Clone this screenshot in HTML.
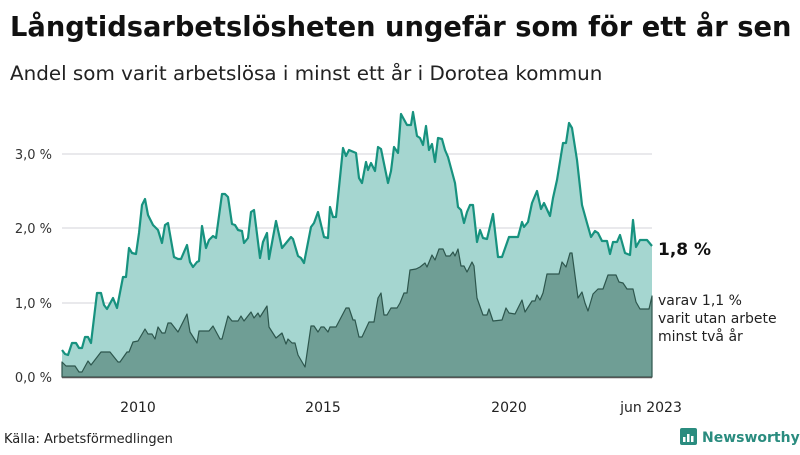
<!DOCTYPE html>
<html><head><meta charset="utf-8"><style>
body{margin:0;background:#fff;font-family:"Liberation Sans","DejaVu Sans",sans-serif;}
</style></head><body>
<svg width="800" height="450" xmlns="http://www.w3.org/2000/svg" font-family="'DejaVu Sans','Liberation Sans',sans-serif">
<rect width="800" height="450" fill="#fff"/>
<text x="10" y="36" font-size="27.3" font-weight="bold" fill="#111">Långtidsarbetslösheten ungefär som för ett år sen</text>
<text x="10" y="80" font-size="19.9" fill="#222">Andel som varit arbetslösa i minst ett år i Dorotea kommun</text>
<g stroke="#dcdce0" stroke-width="1.2">
<line x1="62" y1="154" x2="652" y2="154"/><line x1="62" y1="228" x2="652" y2="228"/><line x1="62" y1="303" x2="652" y2="303"/>
</g>
<g font-size="13" fill="#333" text-anchor="end">
<text x="52" y="159">3,0 %</text><text x="52" y="233">2,0 %</text><text x="52" y="308">1,0 %</text><text x="52" y="382">0,0 %</text>
</g>
<polygon fill="#a5d6d0" points="62,377 62,350 65,354 68,355 72,343 76,343 79,348 82,348 85,337 88,337 91,343 97,293 101,293 104,305 107,309 113,298 117,308 123,277 126,277 129,248 132,253 136,254 139,233 142,205 145,199 148,215 153,225 158,230 162,243 165,225 168,223 174,257 178,259 181,259 187,245 190,262 193,267 197,262 199,261 202,226 206,248 209,240 213,236 216,238 222,194 225,194 228,197 232,224 235,225 238,230 242,231 244,243 248,238 251,212 254,210 260,258 263,242 267,233 269,259 276,221 282,248 291,237 293,239 298,256 301,258 304,263 311,227 314,223 318,212 324,237 328,238 330,207 333,217 336,217 343,148 346,156 349,150 356,153 359,178 362,183 366,162 368,170 371,163 375,171 378,147 381,149 388,183 391,171 394,147 398,153 401,114 407,125 411,125 413,112 417,136 420,138 423,145 426,126 429,150 432,144 435,162 438,138 442,139 445,150 448,157 455,183 458,207 461,210 464,223 467,212 470,205 473,205 477,242 480,230 483,238 487,239 493,214 498,257 502,257 509,237 518,237 522,222 524,227 528,222 532,203 537,191 541,209 544,203 550,216 553,198 557,180 563,143 566,143 569,123 572,128 577,160 582,205 587,223 591,237 595,231 598,233 602,241 607,241 610,254 613,242 617,242 620,235 625,253 630,255 633,220 636,247 640,240 647,240 652,246 652,377"/>
<polyline fill="none" stroke="#17927f" stroke-width="2.2" stroke-linejoin="round" points="62,350 65,354 68,355 72,343 76,343 79,348 82,348 85,337 88,337 91,343 97,293 101,293 104,305 107,309 113,298 117,308 123,277 126,277 129,248 132,253 136,254 139,233 142,205 145,199 148,215 153,225 158,230 162,243 165,225 168,223 174,257 178,259 181,259 187,245 190,262 193,267 197,262 199,261 202,226 206,248 209,240 213,236 216,238 222,194 225,194 228,197 232,224 235,225 238,230 242,231 244,243 248,238 251,212 254,210 260,258 263,242 267,233 269,259 276,221 282,248 291,237 293,239 298,256 301,258 304,263 311,227 314,223 318,212 324,237 328,238 330,207 333,217 336,217 343,148 346,156 349,150 356,153 359,178 362,183 366,162 368,170 371,163 375,171 378,147 381,149 388,183 391,171 394,147 398,153 401,114 407,125 411,125 413,112 417,136 420,138 423,145 426,126 429,150 432,144 435,162 438,138 442,139 445,150 448,157 455,183 458,207 461,210 464,223 467,212 470,205 473,205 477,242 480,230 483,238 487,239 493,214 498,257 502,257 509,237 518,237 522,222 524,227 528,222 532,203 537,191 541,209 544,203 550,216 553,198 557,180 563,143 566,143 569,123 572,128 577,160 582,205 587,223 591,237 595,231 598,233 602,241 607,241 610,254 613,242 617,242 620,235 625,253 630,255 633,220 636,247 640,240 647,240 652,246"/>
<polygon fill="#6f9e95" stroke="#2d564d" stroke-width="1.2" stroke-linejoin="round" points="62,377 62,362 66,366 75,366 79,372 82,372 88,361 91,365 101,352 110,352 118,362 120,362 127,352 129,352 133,342 138,341 145,329 148,334 152,334 155,339 158,327 162,333 165,333 168,323 171,323 178,332 187,314 190,332 197,343 199,331 209,331 213,326 220,339 222,339 228,316 232,321 238,321 241,316 244,321 251,312 254,318 258,313 260,317 267,306 269,327 276,338 282,333 286,344 288,339 292,343 295,343 298,355 305,367 311,326 314,326 318,332 321,327 324,327 328,332 330,327 336,327 346,308 349,308 353,320 355,320 359,337 362,337 369,322 374,322 378,298 381,293 384,315 387,315 391,308 397,308 400,303 404,293 407,293 410,270 416,269 420,267 425,263 427,267 432,255 435,260 439,249 443,249 446,256 450,256 453,252 455,256 458,249 461,266 464,266 467,272 472,262 474,266 477,298 483,315 487,315 489,309 493,321 502,320 506,308 509,313 515,314 522,300 525,312 532,301 535,301 537,295 540,300 543,293 547,274 559,274 562,262 566,267 570,253 572,253 578,298 582,292 585,303 588,311 593,294 598,289 603,289 608,275 616,275 619,282 623,283 627,289 633,289 636,302 640,309 649,309 652,296 652,377"/>
<line x1="62" y1="377.5" x2="652" y2="377.5" stroke="#555" stroke-width="1.5"/>
<g font-size="14" fill="#222" text-anchor="middle">
<text x="138" y="412">2010</text><text x="323" y="412">2015</text><text x="509" y="412">2020</text><text x="651" y="412">jun 2023</text>
</g>
<text x="658" y="255" font-size="17" font-weight="bold" fill="#111">1,8 %</text>
<g font-size="14" fill="#222"><text x="658" y="305">varav 1,1 %</text><text x="658" y="323">varit utan arbete</text><text x="658" y="341">minst två år</text></g>
<text x="4" y="443" font-size="13" fill="#222">Källa: Arbetsförmedlingen</text>
<g>
<rect x="680" y="428" width="17" height="17" rx="2" fill="#2a8c7f"/>
<rect x="683" y="437" width="2.5" height="5" fill="#fff"/><rect x="687" y="434" width="2.5" height="8" fill="#fff"/><rect x="691" y="436" width="2.5" height="6" fill="#fff"/>
<text x="702" y="442" font-size="14" font-weight="bold" fill="#2a8c7f">Newsworthy</text>
</g>
</svg>
</body></html>
